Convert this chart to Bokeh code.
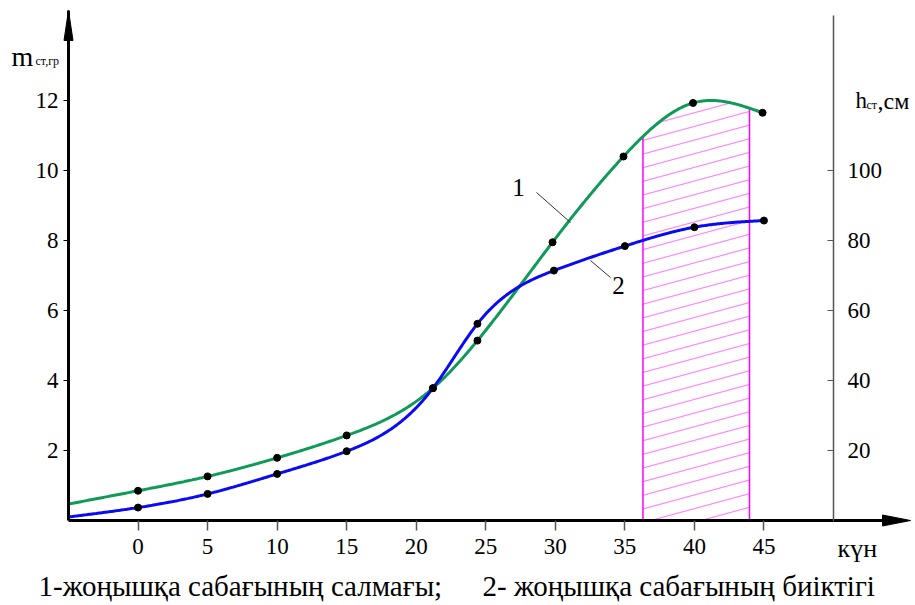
import numpy as np
from bokeh.plotting import figure
from bokeh.models import Range1d, LinearAxis, FixedTicker, Label
from bokeh.embed import file_html
from bokeh.resources import INLINE

# ---------------- data ----------------
days = [0, 5, 10, 15, 21.2, 24.4, 29.8, 34.9, 39.9, 44.9]
mass = [0.85, 1.26, 1.79, 2.43, 3.78, 5.14, 7.95, 10.4, 11.93, 11.65]          # curve 1 (m, gr)
days2 = [0, 5, 10, 15, 21.2, 24.4, 29.9, 35.0, 40.0, 45.0]
height = [3.7, 7.6, 13.3, 19.8, 37.8, 56.2, 71.4, 78.4, 83.8, 85.7]           # curve 2 (h, cm)
start_x = -5
start_mass = 0.47
start_height = 1.0
x_ticks = [0, 5, 10, 15, 20, 25, 30, 35, 40, 45]
m_ticks = [2, 4, 6, 8, 10, 12]
h_ticks = [20, 40, 60, 80, 100]
zone = [36.3, 43.96]          # hatched period, days

FONT = "'Liberation Serif', 'Times New Roman', serif"
GREEN = "#109a58"
BLUE = "#0a0af5"
MAG = "#ff00ff"

W, H = 915, 605
XL, XR = -5.0, 50.0           # left / right axes
PXL, PXR = 68, 833            # their pixel columns
PY0 = 520                     # pixel row of y = 0
pxu = (PXR - PXL) / (XR - XL)
pyu = 35.0


def px2x(p):   # pixel -> data x (annotation placement only)
    return XL + (p - PXL) / pxu


def py2y(p):
    return (PY0 - p) / pyu


def spline(xs, ys, xq):
    xs = np.asarray(xs, float); ys = np.asarray(ys, float)
    n = len(xs); h = np.diff(xs)
    A = np.zeros((n, n)); r = np.zeros(n)
    A[0, 0] = 1; A[-1, -1] = 1
    for i in range(1, n - 1):
        A[i, i - 1] = h[i - 1]; A[i, i] = 2 * (h[i - 1] + h[i]); A[i, i + 1] = h[i]
        r[i] = 3 * ((ys[i + 1] - ys[i]) / h[i] - (ys[i] - ys[i - 1]) / h[i - 1])
    c = np.linalg.solve(A, r)
    b = (ys[1:] - ys[:-1]) / h - h * (2 * c[:-1] + c[1:]) / 3
    d = (c[1:] - c[:-1]) / (3 * h)
    idx = np.clip(np.searchsorted(xs, xq) - 1, 0, n - 2)
    t = xq - xs[idx]
    return ys[idx] + b[idx] * t + c[idx] * t ** 2 + d[idx] * t ** 3


p = figure(width=W, height=H, output_backend="svg", toolbar_location=None,
           x_range=Range1d(px2x(0), px2x(W)), y_range=Range1d(py2y(H), py2y(0)),
           min_border=0, x_axis_location=None, y_axis_location=None)
p.grid.visible = False
p.outline_line_color = None
p.background_fill_color = "white"
p.border_fill_color = "white"
YTOP = py2y(10)
p.extra_y_ranges = {"h": Range1d(py2y(H) * 10, py2y(0) * 10)}


def style(ax, ticks):
    ax.ticker = FixedTicker(ticks=ticks)
    ax.minor_tick_line_color = None
    ax.major_label_text_font = FONT
    ax.major_label_text_font_size = "23px"
    ax.major_label_text_color = "black"


xa = LinearAxis(fixed_location=0, bounds=(XL, XR))
style(xa, x_ticks)
xa.axis_line_width = 3
xa.axis_line_color = "black"
xa.major_tick_out = 10
xa.major_tick_in = 0
xa.major_tick_line_color = "#555555"
xa.major_tick_line_width = 1.5
xa.major_label_standoff = 8
p.add_layout(xa, "below")

ya = LinearAxis(fixed_location=XL, bounds=(0, YTOP))
style(ya, m_ticks)
ya.axis_line_width = 3
ya.axis_line_color = "black"
ya.major_tick_out = 5
ya.major_tick_in = 0
ya.major_tick_line_color = "black"
ya.major_label_standoff = 5
p.add_layout(ya, "left")

ra = LinearAxis(y_range_name="h", fixed_location=XR, bounds=(0, py2y(15) * 10))
style(ra, h_ticks)
ra.axis_line_width = 1.5
ra.axis_line_color = "#555555"
ra.major_tick_out = 0
ra.major_tick_in = 6
ra.major_tick_line_color = "#555555"
ra.major_label_standoff = 14
p.add_layout(ra, "right")

# ---------------- hatched zone ----------------
gx = np.array([start_x] + days)
gy = np.array([start_mass] + mass)
bx = np.array([start_x] + days2)
by = np.array([start_height] + height) / 10.0

slope = 0.108
step = 0.39
phase = 10.86 % step
xs_h = np.linspace(zone[0], zone[1], 600)
top = spline(gx, gy, xs_h)
hx, hy = [], []
b0 = phase - step * 4
while b0 < 13:
    yl = b0 + slope * (xs_h - zone[0])
    m = (yl >= 0) & (yl <= top)
    if m.sum() > 1:
        hx.append(list(xs_h[m])); hy.append(list(yl[m]))
    b0 += step
p.multi_line(hx, hy, line_color="#ff44ff", line_width=1)
for zx in zone:
    p.segment(x0=[zx], y0=[0], x1=[zx], y1=[float(spline(gx, gy, np.array([zx]))[0])],
              line_color=MAG, line_width=1.5)

# ---------------- curves ----------------
xx = np.linspace(start_x, days[-1], 500)
p.line(xx, spline(gx, gy, xx), line_color=GREEN, line_width=3)
xx2 = np.linspace(start_x, days2[-1], 500)
p.line(xx2, spline(bx, by, xx2), line_color=BLUE, line_width=3)
p.scatter(days, mass, size=7, color="black")
p.scatter(days2, list(np.array(height) / 10.0), size=7, color="black")

# ---------------- axis arrows ----------------
p.segment(x0=[XR], y0=[0], x1=[px2x(888)], y1=[0], line_width=3, line_color="black")
p.patch([px2x(882), px2x(910), px2x(882)], [py2y(514.5), py2y(520), py2y(525.5)],
        fill_color="black", line_color="black")
p.patch([px2x(63.5), px2x(68), px2x(72.5)], [py2y(40), py2y(10), py2y(40)],
        fill_color="black", line_color="black")

# ---------------- leader lines & labels ----------------
p.segment(x0=[px2x(536), px2x(590)], y0=[py2y(192), py2y(260)],
          x1=[px2x(570), px2x(610)], y1=[py2y(222), py2y(277)],
          line_width=1, line_color="#333333")


def lab(text, px, py, size, align="left"):
    p.add_layout(Label(x=px2x(px), y=py2y(py), text=text, text_font=FONT,
                       text_font_size=size, text_color="black",
                       text_align=align, text_baseline="middle"))


lab("1", 518, 187, "25px", "center")
lab("2", 618, 285, "25px", "center")
lab("m", 11, 56, "28px")
lab("ст,гр", 35, 60, "12px")
lab("h", 855, 100, "23px")
lab("ст", 866, 104, "12px")
lab(",см", 877, 100, "24px")
lab("күн", 837, 548, "26px")
lab("1-жоңышқа сабағының салмағы;", 38, 585, "29px")
lab("2- жоңышқа сабағының биіктігі", 482, 585, "29px")

open("out.html", "w").write(file_html(p, INLINE))
